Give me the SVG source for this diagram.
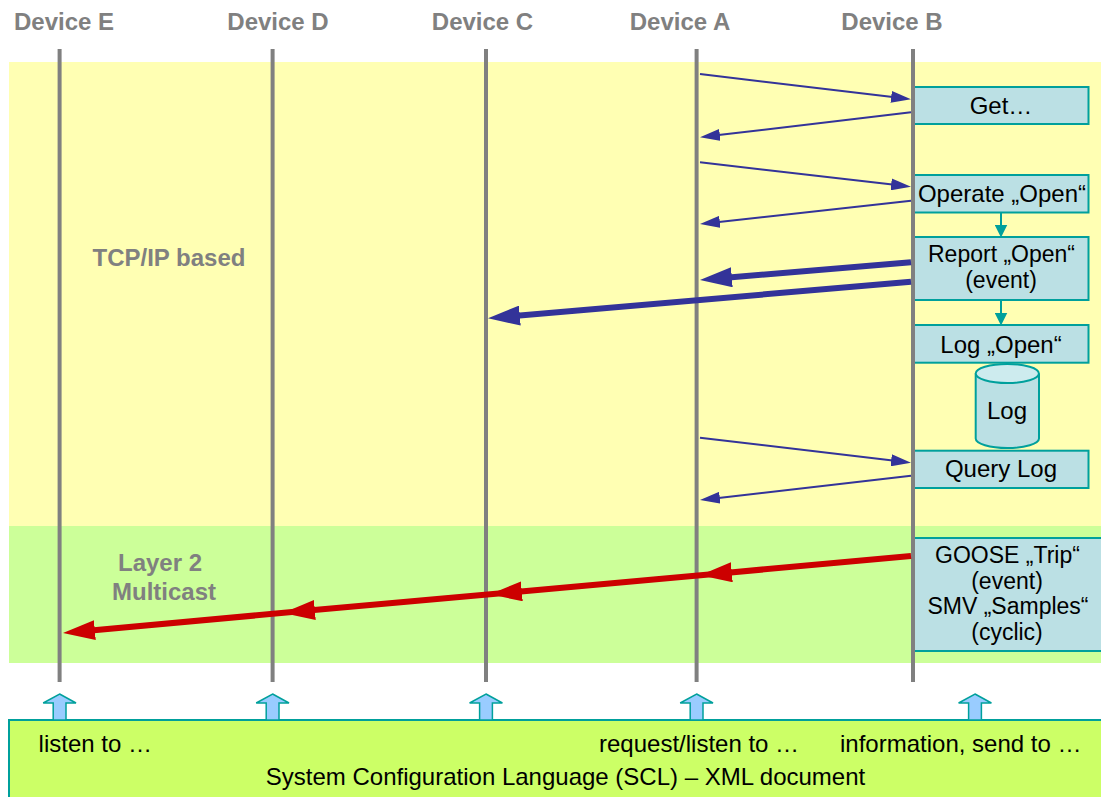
<svg xmlns="http://www.w3.org/2000/svg" width="1101" height="797" viewBox="0 0 1101 797">
<style>
text{font-family:"Liberation Sans",Arial,sans-serif;font-size:24px;fill:#000}
.hdr{font-weight:bold;fill:#808080;text-anchor:middle}
.zone{font-weight:bold;fill:#808080;text-anchor:middle}
.c{text-anchor:middle}
.m{font-size:23px}
.life{stroke:#808080;stroke-width:4;fill:none}
.box{fill:#BBE0E4;stroke:#00A09C;stroke-width:2}
.thin{stroke:#333399;stroke-width:2;fill:none;marker-end:url(#aThin)}
.thick{stroke:#333399;stroke-width:6;fill:none;marker-end:url(#aThick)}
.red{stroke:#CC0000;stroke-width:6;fill:none;marker-end:url(#aRed)}
.teal{stroke:#00A09C;stroke-width:2;fill:none;marker-end:url(#aTeal)}
.up{fill:#99CCFF;stroke:#00A09C;stroke-width:1.5}
</style>
<defs>
<marker id="aThin" markerUnits="userSpaceOnUse" markerWidth="20" markerHeight="12" refX="10" refY="6" orient="auto"><path d="M0,0 L20,6 L0,12 z" fill="#333399"/></marker>
<marker id="aThick" markerUnits="userSpaceOnUse" markerWidth="32" markerHeight="20" refX="12" refY="10" orient="auto"><path d="M0,0 L32,10 L0,20 z" fill="#333399"/></marker>
<marker id="aRed" markerUnits="userSpaceOnUse" markerWidth="32" markerHeight="20" refX="12" refY="10" orient="auto"><path d="M0,0 L32,10 L0,20 z" fill="#CC0000"/></marker>
<marker id="aTeal" markerUnits="userSpaceOnUse" markerWidth="13" markerHeight="13" refX="6" refY="6.5" orient="auto"><path d="M0,0 L13,6.5 L0,13 z" fill="#00A09C"/></marker>
</defs>
<rect width="1101" height="797" fill="#FFFFFF"/>
<g id="zones">
<rect x="9" y="62" width="1092" height="464" fill="#FFFFB3"/>
<rect x="9" y="526" width="1092" height="137" fill="#CCFF99"/>
<text class="zone" x="169" y="266">TCP/IP based</text>
<text class="zone" x="160" y="571">Layer 2</text>
<text class="zone" x="164" y="600">Multicast</text>
</g>
<g id="scl">
<rect x="9" y="720" width="1100" height="90" fill="#CCFF66" stroke="#00A09C" stroke-width="2"/>
<polygon class="up" points="59.6,694 76,703 66,703 66,720 53.2,720 53.2,703 43.2,703"/>
<polygon class="up" points="272.6,694 289,703 279,703 279,720 266.2,720 266.2,703 256.2,703"/>
<polygon class="up" points="486,694 502.4,703 492.4,703 492.4,720 479.6,720 479.6,703 469.6,703"/>
<polygon class="up" points="696.6,694 713,703 703,703 703,720 690.2,720 690.2,703 680.2,703"/>
<polygon class="up" points="975,694 991.4,703 981.4,703 981.4,720 968.6,720 968.6,703 958.6,703"/>
<text x="38.6" y="752">listen to …</text>
<text x="599" y="752">request/listen to …</text>
<text x="840" y="752">information, send to …</text>
<text class="c" x="565.5" y="785">System Configuration Language (SCL) – XML document</text>
</g>
<g id="box-get"><rect class="box" x="914" y="87" width="174.5" height="37"/><text class="c" x="1001" y="114">Get…</text></g>
<g id="box-operate"><rect class="box" x="914" y="175" width="174.5" height="37.5"/><text class="c" x="1002" y="202">Operate „Open“</text></g>
<g id="box-report"><rect class="box" x="914" y="237" width="174.5" height="63"/><text class="c m" x="1001.5" y="262">Report „Open“</text><text class="c m" x="1001" y="288">(event)</text></g>
<g id="box-logopen"><rect class="box" x="914" y="325" width="174.5" height="37.7"/><text class="c" x="1001" y="353">Log „Open“</text></g>
<g id="db-log">
<path d="M975.7,373.5 L975.7,438.5 A31.6,9.5 0 0 0 1039,438.5 L1039,373.5" fill="#BBE0E4" stroke="#00A09C" stroke-width="2"/>
<ellipse cx="1007.3" cy="373.5" rx="31.6" ry="9.5" fill="#CDEBEE" stroke="#00A09C" stroke-width="2"/>
<text class="c" x="1007" y="419">Log</text>
</g>
<g id="box-query"><rect class="box" x="914" y="450.7" width="174.5" height="37.3"/><text class="c" x="1001" y="477">Query Log</text></g>
<g id="box-goose"><rect class="box" x="914" y="538" width="190" height="113"/>
<text class="c m" x="1007.5" y="563">GOOSE „Trip“</text><text class="c m" x="1007" y="589">(event)</text>
<text class="c m" x="1008" y="614">SMV „Samples“</text><text class="c m" x="1007" y="640">(cyclic)</text></g>
<g id="dev-e"><text class="hdr" x="64" y="30">Device E</text><line class="life" x1="59.6" y1="49" x2="59.6" y2="682"/></g>
<g id="dev-d"><text class="hdr" x="278" y="30">Device D</text><line class="life" x1="272.6" y1="49" x2="272.6" y2="682"/></g>
<g id="dev-c"><text class="hdr" x="482.5" y="30">Device C</text><line class="life" x1="486" y1="49" x2="486" y2="682"/></g>
<g id="dev-a"><text class="hdr" x="680" y="30">Device A</text><line class="life" x1="696.6" y1="49" x2="696.6" y2="682"/></g>
<g id="dev-b"><text class="hdr" x="892" y="30">Device B</text><line class="life" x1="913" y1="49" x2="913" y2="682"/></g>
<g id="connectors">
<line class="thin" x1="700" y1="74" x2="901.1" y2="98.1"/>
<line class="thin" x1="911" y1="112.3" x2="709.9" y2="136.1"/>
<line class="thin" x1="700" y1="162.3" x2="901.1" y2="185.5"/>
<line class="thin" x1="911" y1="200.7" x2="709.9" y2="222.9"/>
<line class="teal" x1="1001" y1="212.5" x2="1001" y2="230.5"/>
<line class="thick" x1="911" y1="262.3" x2="719.9" y2="278.3"/>
<line class="thick" x1="911" y1="281.7" x2="507.9" y2="316.6"/>
<line class="teal" x1="1001" y1="300" x2="1001" y2="318.5"/>
<line class="thin" x1="700" y1="437.7" x2="901.1" y2="461.5"/>
<line class="thin" x1="911" y1="475.7" x2="709.9" y2="498.9"/>
<line class="red" x1="911" y1="556" x2="719.9" y2="573.4"/>
<line class="red" x1="719.9" y1="573.4" x2="509.9" y2="592.5"/>
<line class="red" x1="509.9" y1="592.5" x2="302.9" y2="611.1"/>
<line class="red" x1="302.9" y1="611.1" x2="82.9" y2="631.2"/>
</g>
</svg>
